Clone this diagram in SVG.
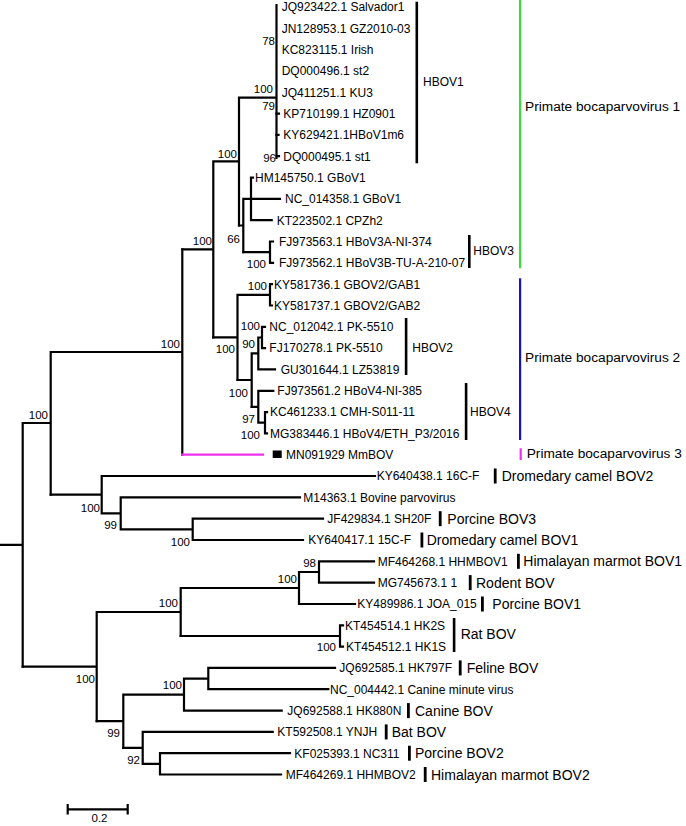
<svg xmlns="http://www.w3.org/2000/svg" width="686" height="826" viewBox="0 0 686 826">
<style>
text{font-family:"Liberation Sans",Arial,sans-serif;fill:#000}
.lf{font-size:12px}
.bs{font-size:11.5px;text-anchor:end}
.cl{font-size:12px}
.sp{font-size:14px}
.pb{font-size:13.7px}
.br{fill:none;stroke:#000;stroke-width:2.2;stroke-linecap:square}
.bar{fill:#000}
</style>
<rect width="686" height="826" fill="#fff"/>
<g id="connectors" class="br">
<path d="M0,544.8H22.7M22.7,423V666.6M22.7,423H50.7M50.7,352V494.7M50.7,352H182.3M182.3,249.4V454.7"/>
<path d="M182.3,249.4H213.3M213.3,161.4V337.4M213.3,161.4H239M239,97.7V225.5M239,97.7H276.5M276.5,5V158"/>
<path d="M276.5,113.6H279M276.5,134.9H278.5M276.5,156.2H279"/>
<path d="M239,225.5H243.3M243.3,198.9V252.2M243.3,198.9H280M251,177.6V220.2M251,220.2H271.7M251,177.6H253"/>
<path d="M243.3,252.2H270M270,241.5V262.8M270,241.5H273M270,262.8H273"/>
<path d="M213.3,337.4H237.5M237.5,294.8V380M237.5,294.8H270M270,284.2V305.5M270,284.2H272M270,305.5H272"/>
<path d="M237.5,380H251.7M251.7,353.4V406.8M251.7,353.4H258.3M258.3,337.5V369.4M258.3,369.4H275M258.3,337.5H262M262,326.8V348.1M262,326.8H265M262,348.1H265"/>
<path d="M251.7,406.8H258.3M258.3,390.8V422.7M258.3,390.8H273.3M258.3,422.7H265M265,412.1V433.4M265,412.1H267M265,433.4H267"/>
<path d="M50.7,494.7H101.7M101.7,476V513.4M101.7,476H375M101.7,513.4H120.7M120.7,497.4V529.3M120.7,497.4H300M120.7,529.3H192.7M192.7,518.7V540M192.7,518.7H323M192.7,540H303"/>
<path d="M22.7,666.6H96.7M96.7,612V721.2M96.7,612H180.7M180.7,588V636M180.7,588H299M299,572V604M299,604H355M299,572H319M319,561.3V582.6M319,561.3H374M319,582.6H374"/>
<path d="M180.7,636H340M340,625.3V646.6M340,625.3H343M340,646.6H343"/>
<path d="M96.7,721.2H123.3M123.3,694.6V747.9M123.3,694.6H184M184,678.6V710.6M184,710.6H281.7M184,678.6H208.3M208.3,667.9V689.2M208.3,667.9H335M208.3,689.2H328.3"/>
<path d="M123.3,747.9H142.7M142.7,731.9V763.9M142.7,731.9H272.7M142.7,763.9H160M160,753.2V774.5M160,753.2H290M160,774.5H281"/>
<path d="M182.3,454.7H263" stroke="#ee30ee"/>
</g>
<g id="bootstrap">
<text class="bs" x="275" y="45">78</text>
<text class="bs" x="273" y="93">100</text>
<text class="bs" x="275" y="110">79</text>
<text class="bs" x="276" y="162">96</text>
<text class="bs" x="237" y="158">100</text>
<text class="bs" x="240" y="243">66</text>
<text class="bs" x="212" y="245">100</text>
<text class="bs" x="266" y="268">100</text>
<text class="bs" x="267" y="290">100</text>
<text class="bs" x="260" y="330">100</text>
<text class="bs" x="255" y="348">90</text>
<text class="bs" x="235" y="353">100</text>
<text class="bs" x="180" y="348">100</text>
<text class="bs" x="248" y="397">100</text>
<text class="bs" x="255" y="423">97</text>
<text class="bs" x="260" y="439">100</text>
<text class="bs" x="48" y="419">100</text>
<text class="bs" x="100" y="512">100</text>
<text class="bs" x="117" y="529">99</text>
<text class="bs" x="190" y="546">100</text>
<text class="bs" x="316" y="567">98</text>
<text class="bs" x="297" y="583">100</text>
<text class="bs" x="178" y="607">100</text>
<text class="bs" x="336" y="651">100</text>
<text class="bs" x="95" y="683">100</text>
<text class="bs" x="182" y="689">100</text>
<text class="bs" x="120" y="737">99</text>
<text class="bs" x="140" y="764">92</text>
</g>
<g id="leaf-JQ923422"><text class="lf" x="281.7" y="11.3">JQ923422.1 Salvador1</text></g>
<g id="leaf-JN128953"><text class="lf" x="281.7" y="32.6">JN128953.1 GZ2010-03</text></g>
<g id="leaf-KC823115"><text class="lf" x="281.7" y="53.9">KC823115.1 Irish</text></g>
<g id="leaf-DQ000496"><text class="lf" x="281.7" y="75.3">DQ000496.1 st2</text></g>
<g id="leaf-JQ411251"><text class="lf" x="281.7" y="96.6">JQ411251.1 KU3</text></g>
<g id="leaf-KP710199"><text class="lf" x="283.3" y="117.9">KP710199.1 HZ0901</text></g>
<g id="leaf-KY629421"><text class="lf" x="283.3" y="139.2">KY629421.1HBoV1m6</text></g>
<g id="leaf-DQ000495"><text class="lf" x="283.3" y="160.5">DQ000495.1 st1</text></g>
<g id="leaf-HM145750"><text class="lf" x="255" y="181.9">HM145750.1 GBoV1</text></g>
<g id="leaf-NC014358"><text class="lf" x="285" y="203.2">NC_014358.1 GBoV1</text></g>
<g id="leaf-KT223502"><text class="lf" x="276.7" y="224.5">KT223502.1 CPZh2</text></g>
<g id="leaf-FJ973563"><text class="lf" x="279" y="245.8">FJ973563.1 HBoV3A-NI-374</text></g>
<g id="leaf-FJ973562"><text class="lf" x="279" y="267.1">FJ973562.1 HBoV3B-TU-A-210-07</text></g>
<g id="leaf-KY581736"><text class="lf" x="274" y="288.5">KY581736.1 GBOV2/GAB1</text></g>
<g id="leaf-KY581737"><text class="lf" x="274" y="309.8">KY581737.1 GBOV2/GAB2</text></g>
<g id="leaf-NC012042"><text class="lf" x="269.3" y="331.1">NC_012042.1 PK-5510</text></g>
<g id="leaf-FJ170278"><text class="lf" x="269.3" y="352.4">FJ170278.1 PK-5510</text></g>
<g id="leaf-GU301644"><text class="lf" x="280.7" y="373.7">GU301644.1 LZ53819</text></g>
<g id="leaf-FJ973561"><text class="lf" x="277.3" y="395.1">FJ973561.2 HBoV4-NI-385</text></g>
<g id="leaf-KC461233"><text class="lf" x="270" y="416.4">KC461233.1 CMH-S011-11</text></g>
<g id="leaf-MG383446"><text class="lf" x="270" y="437.7">MG383446.1 HBoV4/ETH_P3/2016</text></g>
<g id="leaf-MN091929"><rect x="272.7" y="450.5" width="9" height="7.5" fill="#000"/><text class="lf" x="286" y="459">MN091929 MmBOV</text></g>
<g id="leaf-KY640438"><text class="lf" x="376.7" y="480.3">KY640438.1 16C-F</text><rect class="bar" x="493.8" y="468.5" width="2.8" height="15"/><text class="sp" x="501.7" y="481">Dromedary camel BOV2</text></g>
<g id="leaf-M14363"><text class="lf" x="303.3" y="501.7">M14363.1 Bovine parvovirus</text></g>
<g id="leaf-JF429834"><text class="lf" x="327.3" y="523">JF429834.1 SH20F</text><rect class="bar" x="438.8" y="511.2" width="2.8" height="15"/><text class="sp" x="447.3" y="523.7">Porcine BOV3</text></g>
<g id="leaf-KY640417"><text class="lf" x="308.3" y="544.3">KY640417.1 15C-F</text><rect class="bar" x="420.5" y="532.5" width="2.8" height="15"/><text class="sp" x="426.7" y="545">Dromedary camel BOV1</text></g>
<g id="leaf-MF464268"><text class="lf" x="377.7" y="565.6">MF464268.1 HHMBOV1</text><rect class="bar" x="517" y="553.8" width="2.8" height="15"/><text class="sp" x="523.3" y="566.3">Himalayan marmot BOV1</text></g>
<g id="leaf-MG745673"><text class="lf" x="377.7" y="586.9">MG745673.1 1</text><rect class="bar" x="468.8" y="575.1" width="2.8" height="15"/><text class="sp" x="476" y="587.6">Rodent BOV</text></g>
<g id="leaf-KY489986"><text class="lf" x="357.3" y="608.3">KY489986.1 JOA_015</text><rect class="bar" x="481" y="596.5" width="2.8" height="15"/><text class="sp" x="492.3" y="609">Porcine BOV1</text></g>
<g id="leaf-KT454514"><text class="lf" x="345" y="629.6">KT454514.1 HK2S</text></g>
<g id="leaf-KT454512"><text class="lf" x="346" y="650.9">KT454512.1 HK1S</text></g>
<g id="leaf-JQ692585"><text class="lf" x="339.3" y="672.2">JQ692585.1 HK797F</text><rect class="bar" x="458.8" y="660.4" width="2.8" height="15"/><text class="sp" x="466.7" y="672.9">Feline BOV</text></g>
<g id="leaf-NC004442"><text class="lf" x="330" y="693.5">NC_004442.1 Canine minute virus</text></g>
<g id="leaf-JQ692588"><text class="lf" x="287.3" y="714.9">JQ692588.1 HK880N</text><rect class="bar" x="407" y="703.1" width="2.8" height="15"/><text class="sp" x="415" y="715.6">Canine BOV</text></g>
<g id="leaf-KT592508"><text class="lf" x="277.3" y="736.2">KT592508.1 YNJH</text><rect class="bar" x="384.8" y="724.4" width="2.8" height="15"/><text class="sp" x="391.7" y="736.9">Bat BOV</text></g>
<g id="leaf-KF025393"><text class="lf" x="294.3" y="757.5">KF025393.1 NC311</text><rect class="bar" x="408" y="745.7" width="2.8" height="15"/><text class="sp" x="415" y="758.2">Porcine BOV2</text></g>
<g id="leaf-MF464269"><text class="lf" x="285.7" y="778.8">MF464269.1 HHMBOV2</text><rect class="bar" x="423.8" y="767" width="2.8" height="15"/><text class="sp" x="431" y="779.5">Himalayan marmot BOV2</text></g>
<g id="clade-HBOV1"><rect class="bar" x="415.5" y="1.7" width="2.6" height="161.6"/><text class="cl" x="423" y="86">HBOV1</text></g>
<g id="clade-HBOV3"><rect class="bar" x="468" y="235" width="2.6" height="33"/><text class="cl" x="473.3" y="255">HBOV3</text></g>
<g id="clade-HBOV2"><rect class="bar" x="404.8" y="318" width="2.6" height="57"/><text class="cl" x="412.3" y="351.7">HBOV2</text></g>
<g id="clade-HBOV4"><rect class="bar" x="464.8" y="383" width="2.6" height="57"/><text class="cl" x="470" y="416">HBOV4</text></g>
<g id="clade-Rat"><rect class="bar" x="452.8" y="618" width="2.6" height="34"/><text class="sp" x="460.7" y="638.5">Rat BOV</text></g>
<g id="species-PBV1"><rect x="519" y="0" width="2.2" height="268.3" fill="#3ddc3d"/><text class="pb" x="525" y="111">Primate bocaparvovirus 1</text></g>
<g id="species-PBV2"><rect x="519" y="278.3" width="2.2" height="161.7" fill="#1515b5"/><text class="pb" x="525" y="361.5">Primate bocaparvovirus 2</text></g>
<g id="species-PBV3"><rect x="519.6" y="448.3" width="2.2" height="11.7" fill="#ee30ee"/><text class="pb" x="526.7" y="458">Primate bocaparvovirus 3</text></g>
<g id="scale">
<path class="br" d="M67.7,809.3H127.7M67.7,805V813.5M127.7,805V813.5"/>
<text x="99.5" y="821.5" font-size="11.5" text-anchor="middle">0.2</text>
</g>
</svg>
